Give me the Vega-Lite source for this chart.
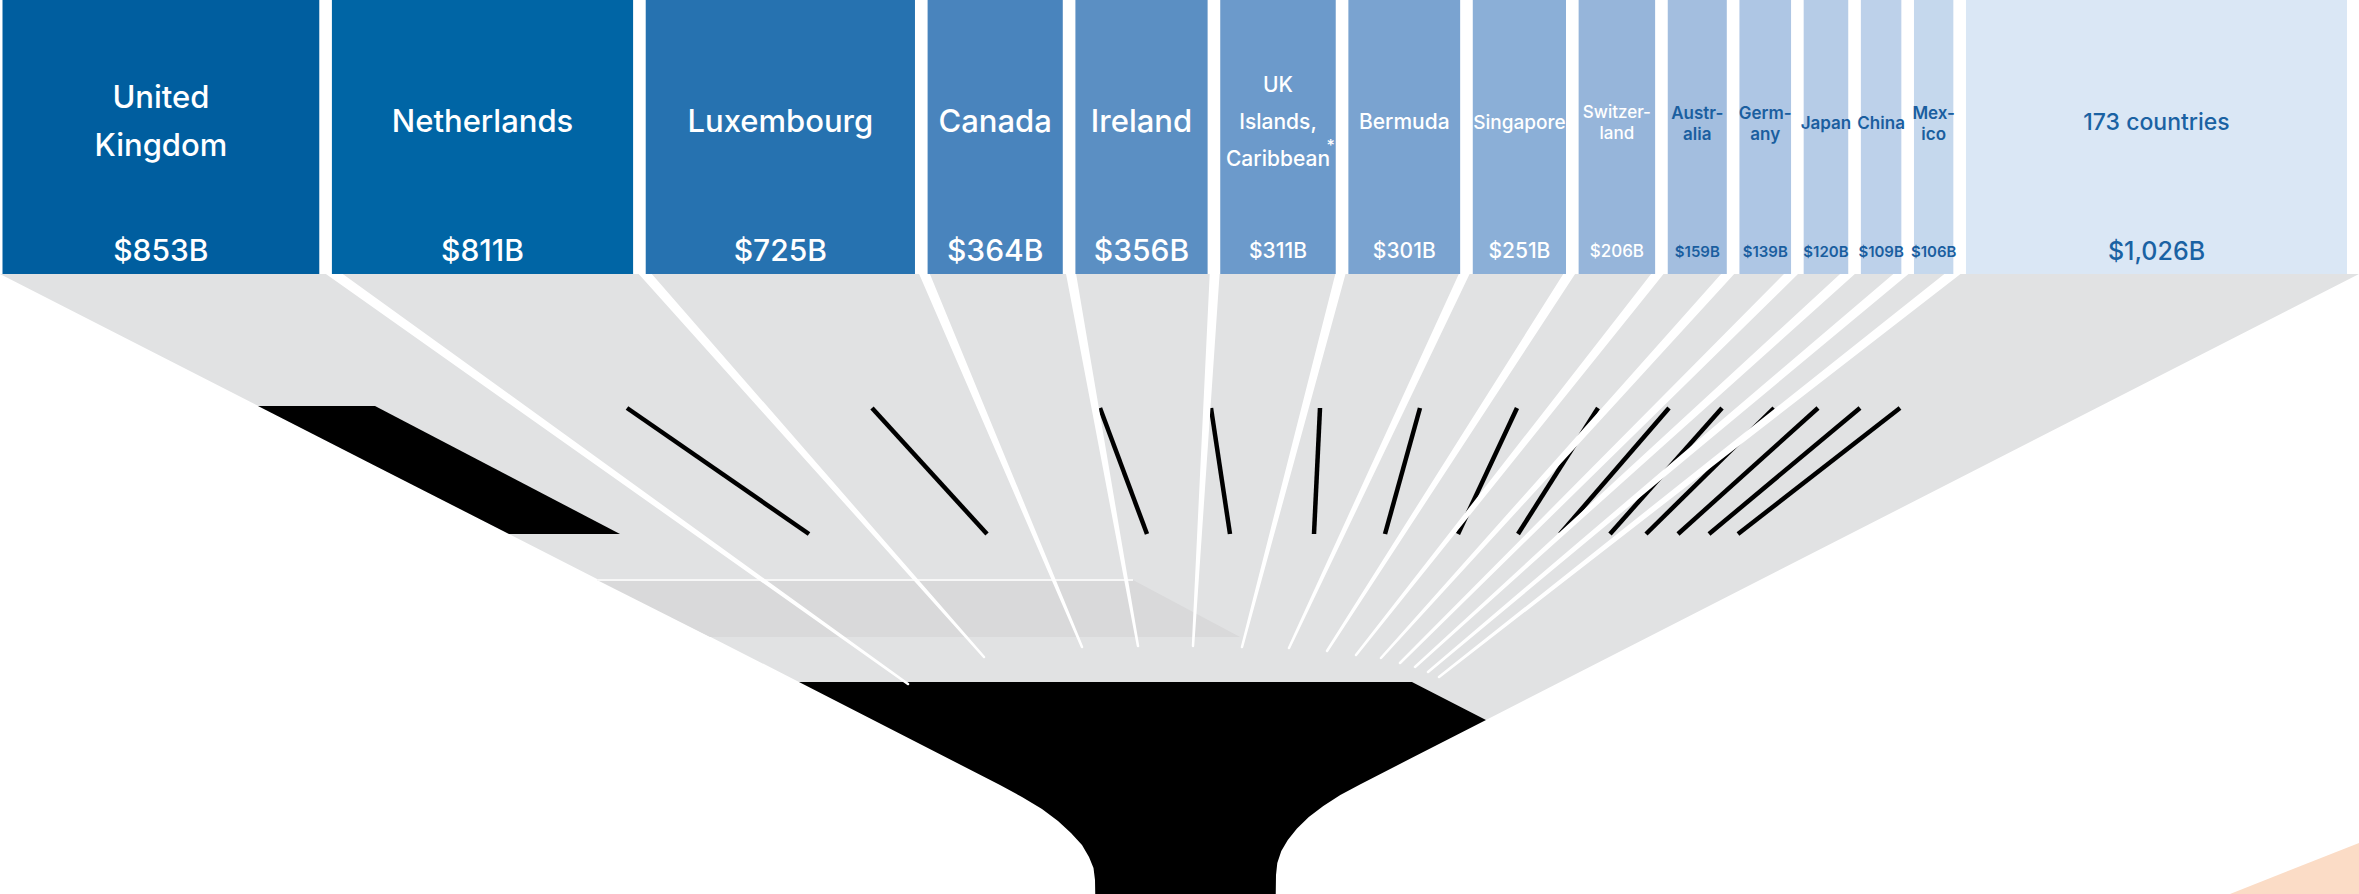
{
  "$schema": "https://vega.github.io/schema/vega-lite/v6.json",
  "width": 2359,
  "height": 894,
  "autosize": "none",
  "padding": 0,
  "background": "white",
  "config": {"view": {"stroke": null}},
  "datasets": {
    "countries": [
      {"rank": 1, "country": "United Kingdom", "name": "United\nKingdom", "value": 853},
      {"rank": 2, "country": "Netherlands", "name": "Netherlands", "value": 811},
      {"rank": 3, "country": "Luxembourg", "name": "Luxembourg", "value": 725},
      {"rank": 4, "country": "Canada", "name": "Canada", "value": 364},
      {"rank": 5, "country": "Ireland", "name": "Ireland", "value": 356},
      {"rank": 6, "country": "UK Islands, Caribbean", "name": "UK\nIslands,\nCaribbean", "value": 311, "note": "*"},
      {"rank": 7, "country": "Bermuda", "name": "Bermuda", "value": 301},
      {"rank": 8, "country": "Singapore", "name": "Singapore", "value": 251},
      {"rank": 9, "country": "Switzerland", "name": "Switzer-\nland", "value": 206},
      {"rank": 10, "country": "Australia", "name": "Austr-\nalia", "value": 159},
      {"rank": 11, "country": "Germany", "name": "Germ-\nany", "value": 139},
      {"rank": 12, "country": "Japan", "name": "Japan", "value": 120},
      {"rank": 13, "country": "China", "name": "China", "value": 109},
      {"rank": 14, "country": "Mexico", "name": "Mex-\nico", "value": 106},
      {"rank": 15, "country": "173 countries", "name": "173 countries", "value": 1026}
    ],
    "shapes": [
      {"shape": "funnel", "x": 0, "y": 274, "y2": 274},
      {"shape": "funnel", "x": 799, "y": 682, "y2": 274},
      {"shape": "funnel", "x": 1412, "y": 682, "y2": 274},
      {"shape": "funnel", "x": 1486, "y": 720, "y2": 274},
      {"shape": "funnel", "x": 2359, "y": 274, "y2": 274},
      {"shape": "band", "x": 597, "y": 580, "y2": 580},
      {"shape": "band", "x": 710, "y": 637, "y2": 580},
      {"shape": "band", "x": 1133, "y": 637, "y2": 580},
      {"shape": "band", "x": 1240, "y": 637, "y2": 637},
      {"shape": "wedge", "x": 258, "y": 406, "y2": 406},
      {"shape": "wedge", "x": 375, "y": 465.7, "y2": 406},
      {"shape": "wedge", "x": 509, "y": 534, "y2": 476},
      {"shape": "wedge", "x": 620, "y": 534, "y2": 534},
      {"shape": "stem", "x": 799, "y": 682, "y2": 682},
      {"shape": "stem", "x": 1000, "y": 785, "y2": 682},
      {"shape": "stem", "x": 1022, "y": 797, "y2": 682},
      {"shape": "stem", "x": 1042, "y": 809, "y2": 682},
      {"shape": "stem", "x": 1058, "y": 821, "y2": 682},
      {"shape": "stem", "x": 1071, "y": 833, "y2": 682},
      {"shape": "stem", "x": 1082, "y": 845, "y2": 682},
      {"shape": "stem", "x": 1089, "y": 857, "y2": 682},
      {"shape": "stem", "x": 1093.5, "y": 868, "y2": 682},
      {"shape": "stem", "x": 1095, "y": 880, "y2": 682},
      {"shape": "stem", "x": 1095.3, "y": 897, "y2": 682},
      {"shape": "stem", "x": 1275.7, "y": 897, "y2": 682},
      {"shape": "stem", "x": 1276, "y": 875, "y2": 682},
      {"shape": "stem", "x": 1277.3, "y": 863, "y2": 682},
      {"shape": "stem", "x": 1281.3, "y": 851, "y2": 682},
      {"shape": "stem", "x": 1287.8, "y": 840, "y2": 682},
      {"shape": "stem", "x": 1297, "y": 828.5, "y2": 682},
      {"shape": "stem", "x": 1308.8, "y": 817, "y2": 682},
      {"shape": "stem", "x": 1323.3, "y": 806, "y2": 682},
      {"shape": "stem", "x": 1340.3, "y": 795, "y2": 682},
      {"shape": "stem", "x": 1360, "y": 784.4, "y2": 682},
      {"shape": "stem", "x": 1412, "y": 757.8, "y2": 682},
      {"shape": "stem", "x": 1486, "y": 720, "y2": 720},
      {"shape": "corner", "x": 2230, "y": 894, "y2": 894},
      {"shape": "corner", "x": 2359, "y": 894, "y2": 843}
    ],
    "segments": [
      {"kind": "hairline", "x": 597, "x2": 1133, "y": 580, "y2": 580},
      {"kind": "shadow", "x": 627, "x2": 809, "y": 408, "y2": 534},
      {"kind": "shadow", "x": 872, "x2": 987, "y": 408, "y2": 534},
      {"kind": "shadow", "x": 1100, "x2": 1147, "y": 408, "y2": 534},
      {"kind": "shadow", "x": 1211, "x2": 1230, "y": 408, "y2": 534},
      {"kind": "shadow", "x": 1320, "x2": 1314, "y": 408, "y2": 534},
      {"kind": "shadow", "x": 1420, "x2": 1385, "y": 408, "y2": 534},
      {"kind": "shadow", "x": 1517, "x2": 1458, "y": 408, "y2": 534},
      {"kind": "shadow", "x": 1598, "x2": 1518, "y": 408, "y2": 534},
      {"kind": "shadow", "x": 1669, "x2": 1560, "y": 408, "y2": 534},
      {"kind": "shadow", "x": 1722, "x2": 1610, "y": 408, "y2": 534},
      {"kind": "shadow", "x": 1774, "x2": 1646, "y": 408, "y2": 534},
      {"kind": "shadow", "x": 1818, "x2": 1678, "y": 408, "y2": 534},
      {"kind": "shadow", "x": 1860, "x2": 1709, "y": 408, "y2": 534},
      {"kind": "shadow", "x": 1900, "x2": 1738, "y": 408, "y2": 534}
    ],
    "beams": [
      {"id": 1, "end": 0, "x": 326, "y": 268}, {"id": 1, "end": 1, "x": 908, "y": 684},
      {"id": 2, "end": 0, "x": 640, "y": 268}, {"id": 2, "end": 1, "x": 984, "y": 657},
      {"id": 3, "end": 0, "x": 922, "y": 268}, {"id": 3, "end": 1, "x": 1082, "y": 647},
      {"id": 4, "end": 0, "x": 1070, "y": 268}, {"id": 4, "end": 1, "x": 1138, "y": 646},
      {"id": 5, "end": 0, "x": 1215, "y": 268}, {"id": 5, "end": 1, "x": 1193, "y": 646},
      {"id": 6, "end": 0, "x": 1342, "y": 268}, {"id": 6, "end": 1, "x": 1242, "y": 647},
      {"id": 7, "end": 0, "x": 1467, "y": 268}, {"id": 7, "end": 1, "x": 1289, "y": 648},
      {"id": 8, "end": 0, "x": 1573, "y": 268}, {"id": 8, "end": 1, "x": 1327, "y": 651},
      {"id": 9, "end": 0, "x": 1662, "y": 268}, {"id": 9, "end": 1, "x": 1356, "y": 655},
      {"id": 10, "end": 0, "x": 1733, "y": 268}, {"id": 10, "end": 1, "x": 1381, "y": 658},
      {"id": 11, "end": 0, "x": 1797, "y": 268}, {"id": 11, "end": 1, "x": 1400, "y": 663},
      {"id": 12, "end": 0, "x": 1854, "y": 268}, {"id": 12, "end": 1, "x": 1415, "y": 667},
      {"id": 13, "end": 0, "x": 1908, "y": 268}, {"id": 13, "end": 1, "x": 1428, "y": 672},
      {"id": 14, "end": 0, "x": 1960, "y": 268}, {"id": 14, "end": 1, "x": 1439, "y": 677}
    ]
  },
  "resolve": {"scale": {"x": "independent"}},
  "layer": [
    {
      "layer": [
        {
          "data": {"name": "shapes"},
          "transform": [{"filter": "datum.shape === 'funnel'"}],
          "mark": {"type": "area", "orient": "vertical", "color": "#e1e2e3", "clip": true},
          "encoding": {
            "x": {"field": "x", "type": "quantitative", "scale": {"domain": [0, 2359], "nice": false, "zero": false}, "axis": null},
            "y": {"field": "y", "type": "quantitative", "stack": null, "scale": {"domain": [0, 894], "reverse": true, "nice": false, "zero": false}, "axis": null},
            "y2": {"field": "y2"}
          }
        },
        {
          "data": {"name": "shapes"},
          "transform": [{"filter": "datum.shape === 'band'"}],
          "mark": {"type": "area", "orient": "vertical", "color": "#d9d9da", "clip": true},
          "encoding": {
            "x": {"field": "x", "type": "quantitative"},
            "y": {"field": "y", "type": "quantitative", "stack": null},
            "y2": {"field": "y2"}
          }
        },
        {
          "data": {"name": "shapes"},
          "transform": [{"filter": "datum.shape === 'corner'"}],
          "mark": {"type": "area", "orient": "vertical", "color": "#fbdcc6", "clip": true},
          "encoding": {
            "x": {"field": "x", "type": "quantitative"},
            "y": {"field": "y", "type": "quantitative", "stack": null},
            "y2": {"field": "y2"}
          }
        },
        {
          "data": {"name": "segments"},
          "transform": [{"filter": "datum.kind === 'hairline'"}],
          "mark": {"type": "rule", "color": "#f7f7f7", "strokeWidth": 2},
          "encoding": {
            "x": {"field": "x", "type": "quantitative"},
            "x2": {"field": "x2"},
            "y": {"field": "y", "type": "quantitative"},
            "y2": {"field": "y2"}
          }
        },
        {
          "data": {"name": "shapes"},
          "transform": [{"filter": "datum.shape === 'wedge'"}],
          "mark": {"type": "area", "orient": "vertical", "color": "#000000", "clip": true},
          "encoding": {
            "x": {"field": "x", "type": "quantitative"},
            "y": {"field": "y", "type": "quantitative", "stack": null},
            "y2": {"field": "y2"}
          }
        },
        {
          "data": {"name": "segments"},
          "transform": [{"filter": "datum.kind === 'shadow'"}],
          "mark": {"type": "rule", "color": "#000000", "strokeWidth": 4.5},
          "encoding": {
            "x": {"field": "x", "type": "quantitative"},
            "x2": {"field": "x2"},
            "y": {"field": "y", "type": "quantitative"},
            "y2": {"field": "y2"}
          }
        },
        {
          "data": {"name": "shapes"},
          "transform": [{"filter": "datum.shape === 'stem'"}],
          "mark": {"type": "area", "orient": "vertical", "color": "#000000", "clip": true},
          "encoding": {
            "x": {"field": "x", "type": "quantitative"},
            "y": {"field": "y", "type": "quantitative", "stack": null},
            "y2": {"field": "y2"}
          }
        },
        {
          "data": {"name": "beams"},
          "mark": {"type": "trail", "color": "#ffffff"},
          "encoding": {
            "x": {"field": "x", "type": "quantitative"},
            "y": {"field": "y", "type": "quantitative"},
            "detail": {"field": "id", "type": "nominal"},
            "order": {"field": "end", "type": "quantitative"},
            "size": {"field": "end", "type": "quantitative", "scale": {"domain": [0, 1], "range": [10, 2.5]}, "legend": null}
          }
        }
      ]
    },
    {
      "data": {"name": "countries"},
      "transform": [
        {"window": [{"op": "sum", "field": "value", "as": "cum"}], "sort": [{"field": "rank", "order": "ascending"}], "frame": [null, 0]},
        {"calculate": "datum.cum - datum.value + (datum.rank - 1) * 34", "as": "x0"},
        {"calculate": "datum.x0 + datum.value", "as": "x1"},
        {"calculate": "(datum.x0 + datum.x1) / 2", "as": "xc"},
        {"calculate": "length(split(datum.name, '\\n'))", "as": "nlines"},
        {"calculate": "'$' + format(datum.value, ',') + 'B'", "as": "label"}
      ],
      "layer": [
        {
          "mark": {"type": "rect"},
          "encoding": {
            "x": {"field": "x0", "type": "quantitative", "scale": {"domain": [-6.73, 6345.3], "nice": false, "zero": false}, "axis": null},
            "x2": {"field": "x1"},
            "y": {"datum": 0, "type": "quantitative", "scale": {"domain": [0, 894], "reverse": true, "nice": false, "zero": false}, "axis": null},
            "y2": {"datum": 274},
            "color": {
              "field": "country", "type": "nominal", "legend": null,
              "scale": {
                "domain": ["United Kingdom", "Netherlands", "Luxembourg", "Canada", "Ireland", "UK Islands, Caribbean", "Bermuda", "Singapore", "Switzerland", "Australia", "Germany", "Japan", "China", "Mexico", "173 countries"],
                "range": ["#005e9f", "#0065a5", "#2672b0", "#4984bd", "#5b8fc3", "#6c9acb", "#7aa3d0", "#8bafd7", "#96b5da", "#a3bedf", "#aec6e4", "#b6cce7", "#bdd1ea", "#c5d8ed", "#dae7f5"]
              }
            }
          }
        },
        {
          "transform": [{"filter": "datum.value >= 350 && datum.value < 1000"}, {"calculate": "123 - (datum.nlines - 1) * 24", "as": "ty"}],
          "mark": {"type": "text", "font": "Inter", "fontSize": 31, "fontWeight": 500, "color": "#ffffff", "lineBreak": "\n", "lineHeight": 48, "baseline": "middle", "align": "center"},
          "encoding": {"x": {"field": "xc", "type": "quantitative"}, "y": {"field": "ty", "type": "quantitative"}, "text": {"field": "name"}}
        },
        {
          "transform": [{"filter": "datum.value >= 350 && datum.value < 1000"}],
          "mark": {"type": "text", "font": "Inter", "fontSize": 30, "fontWeight": 500, "color": "#ffffff", "baseline": "middle", "align": "center"},
          "encoding": {"x": {"field": "xc", "type": "quantitative"}, "y": {"datum": 252}, "text": {"field": "label"}}
        },
        {
          "transform": [{"filter": "datum.value >= 300 && datum.value < 350"}, {"calculate": "123 - (datum.nlines - 1) * 18.5", "as": "ty"}],
          "mark": {"type": "text", "font": "Inter", "fontSize": 21, "fontWeight": 500, "color": "#ffffff", "lineBreak": "\n", "lineHeight": 37, "baseline": "middle", "align": "center"},
          "encoding": {"x": {"field": "xc", "type": "quantitative"}, "y": {"field": "ty", "type": "quantitative"}, "text": {"field": "name"}}
        },
        {
          "transform": [{"filter": "datum.value >= 250 && datum.value < 300"}],
          "mark": {"type": "text", "font": "Inter", "fontSize": 19, "fontWeight": 500, "color": "#ffffff", "baseline": "middle", "align": "center"},
          "encoding": {"x": {"field": "xc", "type": "quantitative"}, "y": {"datum": 123}, "text": {"field": "name"}}
        },
        {
          "transform": [{"filter": "datum.value >= 250 && datum.value < 350"}],
          "mark": {"type": "text", "font": "Inter", "fontSize": 21, "fontWeight": 500, "color": "#ffffff", "baseline": "middle", "align": "center"},
          "encoding": {"x": {"field": "xc", "type": "quantitative"}, "y": {"datum": 252}, "text": {"field": "label"}}
        },
        {
          "transform": [{"filter": "isValid(datum.note)"}],
          "mark": {"type": "text", "font": "Inter", "fontSize": 16, "fontWeight": 500, "color": "#ffffff", "baseline": "middle", "align": "right", "dx": -1},
          "encoding": {"x": {"field": "x1", "type": "quantitative"}, "y": {"datum": 146}, "text": {"field": "note"}}
        },
        {
          "transform": [{"filter": "datum.value >= 200 && datum.value < 250"}, {"calculate": "123 - (datum.nlines - 1) * 10.5", "as": "ty"}],
          "mark": {"type": "text", "font": "Inter", "fontSize": 17, "fontWeight": 500, "color": "#ffffff", "lineBreak": "\n", "lineHeight": 21, "baseline": "middle", "align": "center"},
          "encoding": {"x": {"field": "xc", "type": "quantitative"}, "y": {"field": "ty", "type": "quantitative"}, "text": {"field": "name"}}
        },
        {
          "transform": [{"filter": "datum.value >= 200 && datum.value < 250"}],
          "mark": {"type": "text", "font": "Inter", "fontSize": 17, "fontWeight": 500, "color": "#ffffff", "baseline": "middle", "align": "center"},
          "encoding": {"x": {"field": "xc", "type": "quantitative"}, "y": {"datum": 252}, "text": {"field": "label"}}
        },
        {
          "transform": [{"filter": "datum.value < 200"}, {"calculate": "124 - (datum.nlines - 1) * 10.5", "as": "ty"}],
          "mark": {"type": "text", "font": "Inter", "fontSize": 17, "fontWeight": 600, "color": "#1a5e9f", "lineBreak": "\n", "lineHeight": 21, "baseline": "middle", "align": "center"},
          "encoding": {"x": {"field": "xc", "type": "quantitative"}, "y": {"field": "ty", "type": "quantitative"}, "text": {"field": "name"}}
        },
        {
          "transform": [{"filter": "datum.value < 200"}],
          "mark": {"type": "text", "font": "Inter", "fontSize": 15, "fontWeight": 600, "color": "#1a5e9f", "baseline": "middle", "align": "center"},
          "encoding": {"x": {"field": "xc", "type": "quantitative"}, "y": {"datum": 252}, "text": {"field": "label"}}
        },
        {
          "transform": [{"filter": "datum.value >= 1000"}],
          "mark": {"type": "text", "font": "Inter", "fontSize": 23, "fontWeight": 500, "color": "#1a62a3", "baseline": "middle", "align": "center"},
          "encoding": {"x": {"field": "xc", "type": "quantitative"}, "y": {"datum": 123}, "text": {"field": "name"}}
        },
        {
          "transform": [{"filter": "datum.value >= 1000"}],
          "mark": {"type": "text", "font": "Inter", "fontSize": 25, "fontWeight": 500, "color": "#1a62a3", "baseline": "middle", "align": "center"},
          "encoding": {"x": {"field": "xc", "type": "quantitative"}, "y": {"datum": 252}, "text": {"field": "label"}}
        }
      ]
    }
  ]
}
